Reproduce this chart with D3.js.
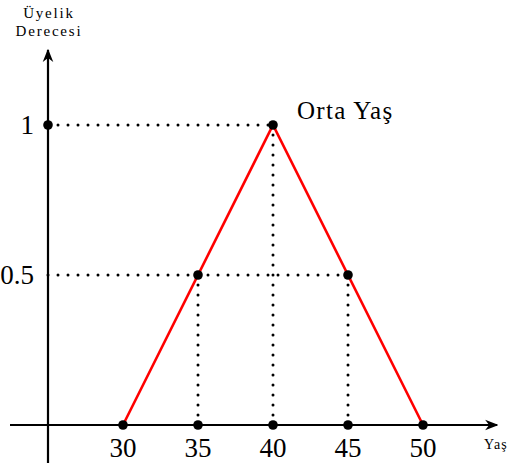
<!DOCTYPE html>
<html><head><meta charset="utf-8">
<script src="https://cdn.jsdelivr.net/npm/d3@7"></script>
<style>body{margin:0;background:#fff}svg{display:block}</style>
</head><body>
<svg id="c" width="518" height="466"></svg>
<script>
const xTicks = [30, 35, 40, 45, 50];
const yTicks = [0.5, 1];
const yTickLabels = ["0.5", "1"];
const curveX = [30, 40, 50];
const curveY = [0, 1, 0];
const keyX = [35, 40, 45];
const keyY = [0.5, 1, 0.5];
const peakLabel = "Orta Yaş";
const yTitle = ["Üyelik", "Derecesi"];
const xTitle = "Yaş";

const svg = d3.select("#c");
const x = d3.scaleLinear().domain([25, 50]).range([48, 423]);
const y = d3.scaleLinear().domain([0, 1]).range([425, 125]);
const font = "'Liberation Serif','DejaVu Serif',serif";

svg.append("defs").append("marker").attr("id","arr").attr("viewBox","0 0 10 10")
  .attr("refX",9).attr("refY",5).attr("markerWidth",6).attr("markerHeight",6)
  .attr("markerUnits","strokeWidth").attr("orient","auto")
  .append("path").attr("d","M0,1 L10,5 L0,9 L3,5 Z").attr("fill","#000");

// dotted guides
const dot = {stroke:"#000","stroke-width":3,"stroke-linecap":"round","stroke-dasharray":"0 10"};
function dl(x1,y1,x2,y2){const l=svg.append("line").attr("x1",x1).attr("y1",y1).attr("x2",x2).attr("y2",y2);
  for(const k in dot) l.attr(k,dot[k]);}
dl(x(25), y(1), x(40), y(1));
dl(x(25), y(0.5), x(45), y(0.5));
keyX.forEach((v,i)=>dl(x(v), y(keyY[i]), x(v), y(0)));

// axes
svg.append("line").attr("x1",x(25)).attr("y1",463).attr("x2",x(25)).attr("y2",50)
  .attr("stroke","#000").attr("stroke-width",2.2).attr("marker-end","url(#arr)");
svg.append("line").attr("x1",10).attr("y1",y(0)).attr("x2",497).attr("y2",y(0))
  .attr("stroke","#000").attr("stroke-width",2.2).attr("marker-end","url(#arr)");

// curve
const line = d3.line().x((d,i)=>x(curveX[i])).y((d,i)=>y(curveY[i]));
svg.append("path").datum(curveX).attr("d",line).attr("fill","none").attr("stroke","#ff0000").attr("stroke-width",2.6);

// dots
const pts = xTicks.map(v=>[v,0]).concat(keyX.map((v,i)=>[v,keyY[i]])).concat([[25,1]]);
svg.selectAll("circle.p").data(pts).join("circle").attr("class","p")
  .attr("cx",d=>x(d[0])).attr("cy",d=>y(d[1])).attr("r",4.8).attr("fill","#000");

// tick labels
svg.selectAll("text.xt").data(xTicks).join("text").attr("class","xt")
  .attr("x",d=>x(d)).attr("y",457).attr("text-anchor","middle")
  .attr("font-family",font).attr("font-size",27).text(d=>d);
svg.selectAll("text.yt").data(yTicks).join("text").attr("class","yt")
  .attr("x",34).attr("y",d=>y(d)+9).attr("text-anchor","end")
  .attr("font-family",font).attr("font-size",27).text((d,i)=>yTickLabels[i]);

svg.append("text").attr("x",297).attr("y",119).attr("font-family",font).attr("font-size",25)
  .attr("letter-spacing",1.3).text(peakLabel);
svg.append("text").attr("x",484).attr("y",449).attr("font-family",font).attr("font-size",14)
  .attr("letter-spacing",1.2).text(xTitle);
svg.selectAll("text.yl").data(yTitle).join("text").attr("class","yl")
  .attr("x",49).attr("y",(d,i)=>18+i*18).attr("text-anchor","middle")
  .attr("font-family",font).attr("font-size",15).attr("letter-spacing",1.8).text(d=>d);
</script>
</body></html>
